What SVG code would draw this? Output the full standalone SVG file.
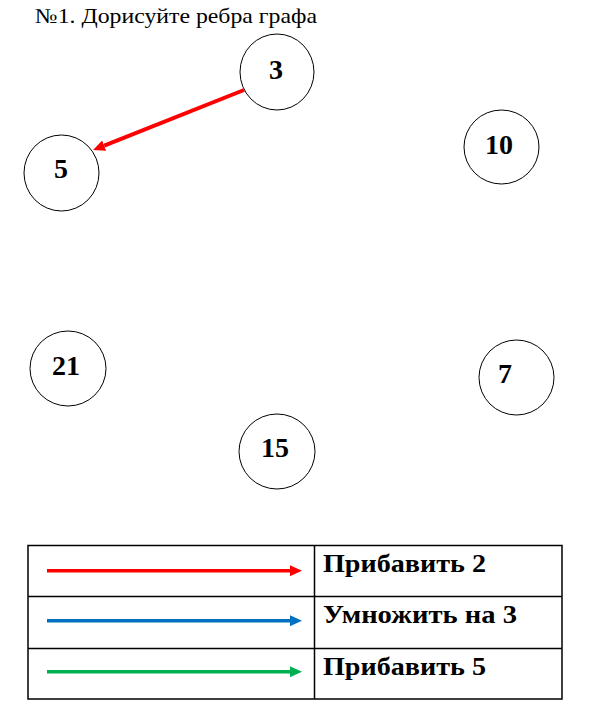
<svg xmlns="http://www.w3.org/2000/svg" width="593" height="717" viewBox="0 0 593 717">
<style>
.node ellipse{fill:#fff;stroke:#000;stroke-width:1}
.node text{font-family:"Liberation Serif","Times New Roman",serif;font-weight:bold;font-size:28px;text-anchor:middle;fill:#000}
.title{font-family:"Liberation Serif","Times New Roman",serif;font-size:21px;fill:#000}
.lbl{font-family:"Liberation Serif","Times New Roman",serif;font-weight:bold;font-size:25px;fill:#000}
.grid{fill:none;stroke:#000;stroke-width:1.5}
</style>
<defs>
<marker id="ahR" markerUnits="userSpaceOnUse" markerWidth="12" markerHeight="11" refX="0" refY="5.5" orient="auto"><path d="M0,0 L12,5.5 L0,11 z" fill="#FF0000"/></marker>
<marker id="ahB" markerUnits="userSpaceOnUse" markerWidth="12" markerHeight="11" refX="0" refY="5.5" orient="auto"><path d="M0,0 L12,5.5 L0,11 z" fill="#0070C0"/></marker>
<marker id="ahG" markerUnits="userSpaceOnUse" markerWidth="12" markerHeight="11" refX="0" refY="5.5" orient="auto"><path d="M0,0 L12,5.5 L0,11 z" fill="#00B050"/></marker>
</defs>
<rect width="593" height="717" fill="#fff"/>
<text class="title" x="35" y="23" textLength="282" lengthAdjust="spacingAndGlyphs">№1. Дорисуйте ребра графа</text>

<g id="node-3" class="node"><ellipse cx="277" cy="72" rx="37" ry="38"/><text x="276" y="79">3</text></g>
<g id="node-5" class="node"><ellipse cx="61.5" cy="173" rx="37.5" ry="38"/><text x="61" y="178">5</text></g>
<g id="node-10" class="node"><ellipse cx="501.5" cy="147" rx="37.5" ry="37"/><text x="499" y="154">10</text></g>
<g id="node-21" class="node"><ellipse cx="68" cy="368.5" rx="38" ry="37.5"/><text x="66" y="375">21</text></g>
<g id="node-7" class="node"><ellipse cx="516.5" cy="377.5" rx="37.5" ry="37.5"/><text x="505" y="383">7</text></g>
<g id="node-15" class="node"><ellipse cx="277" cy="451.5" rx="38" ry="37.5"/><text x="275" y="457">15</text></g>

<g id="connectors">
<line x1="244" y1="90" x2="104.2" y2="145.6" stroke="#FF0000" stroke-width="4" marker-end="url(#ahR)"/>
</g>

<g id="legend">
<rect class="grid" x="28" y="545.5" width="534" height="153.5"/>
<line class="grid" x1="28" y1="596.5" x2="562" y2="596.5"/>
<line class="grid" x1="28" y1="648.5" x2="562" y2="648.5"/>
<line class="grid" x1="314.5" y1="545.5" x2="314.5" y2="699"/>
<line x1="47" y1="570.7" x2="290" y2="570.7" stroke="#FF0000" stroke-width="3.5" marker-end="url(#ahR)"/>
<line x1="47" y1="620.7" x2="290" y2="620.7" stroke="#0070C0" stroke-width="3.5" marker-end="url(#ahB)"/>
<line x1="47" y1="671.7" x2="290" y2="671.7" stroke="#00B050" stroke-width="3.5" marker-end="url(#ahG)"/>
<text class="lbl" x="323" y="572.3" textLength="163" lengthAdjust="spacingAndGlyphs">Прибавить 2</text>
<text class="lbl" x="323" y="623.3" textLength="194" lengthAdjust="spacingAndGlyphs">Умножить на 3</text>
<text class="lbl" x="323" y="675" textLength="163" lengthAdjust="spacingAndGlyphs">Прибавить 5</text>
</g>
</svg>
